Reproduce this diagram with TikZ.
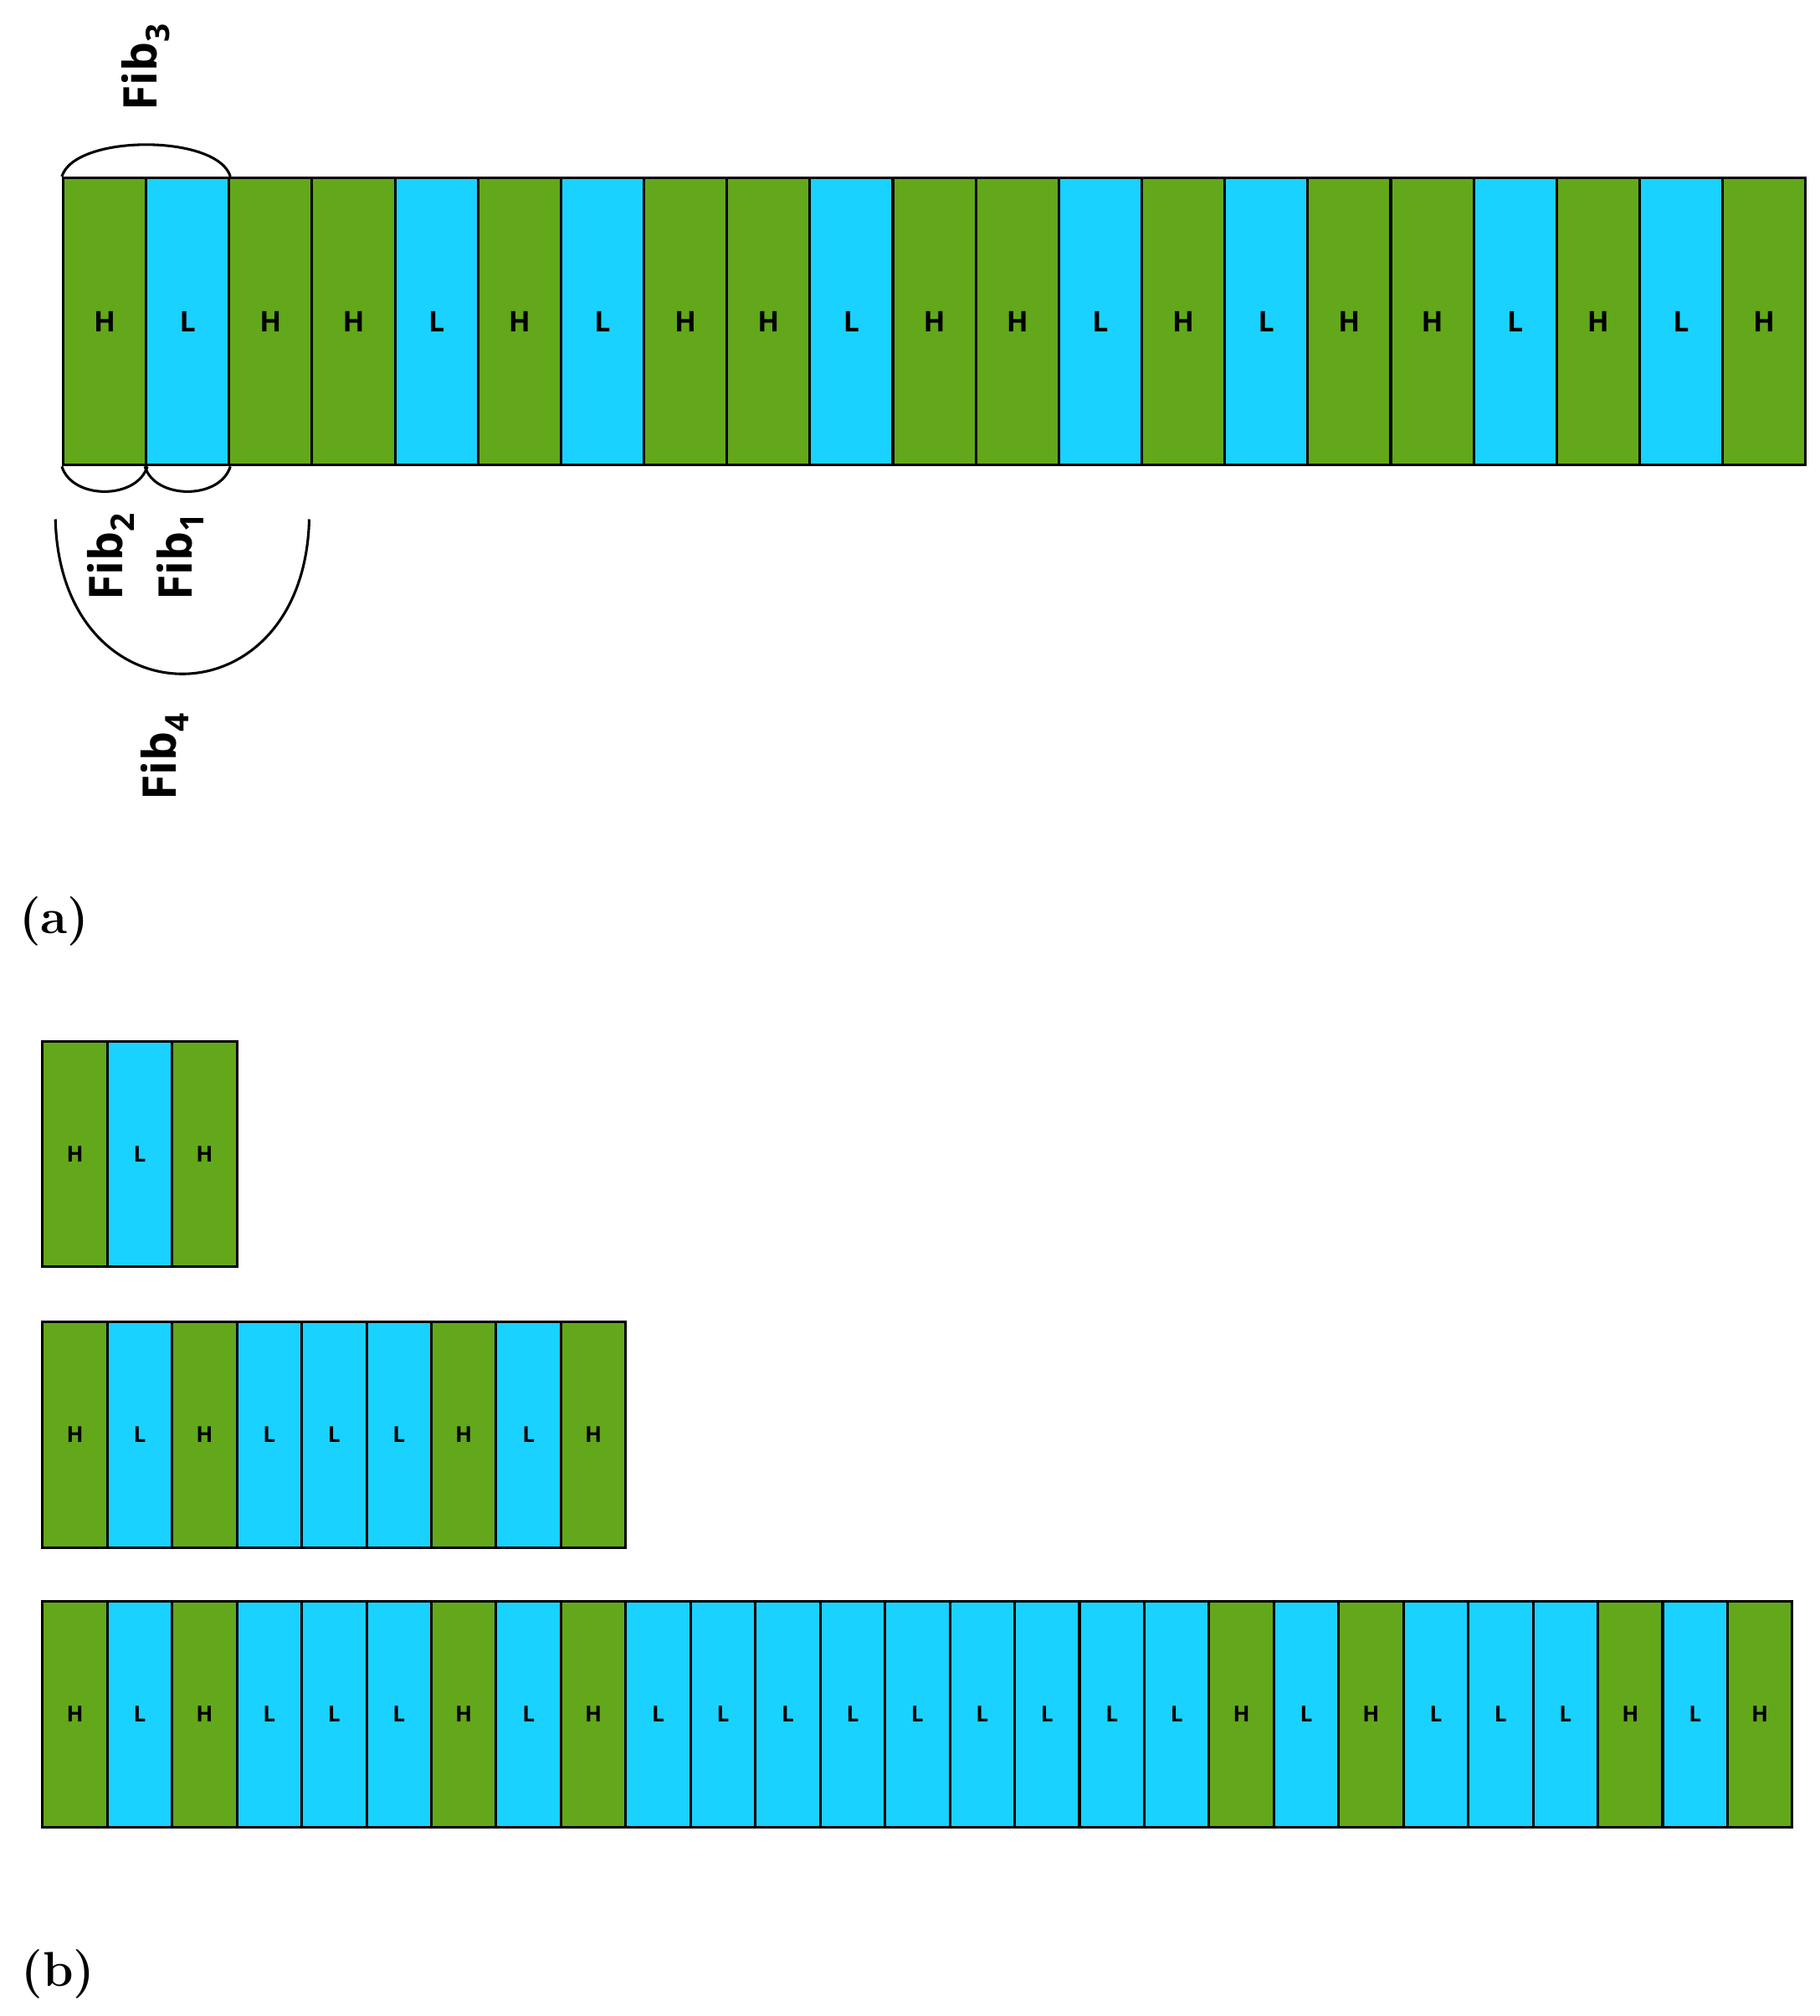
\documentclass[tikz,border=0pt]{standalone}
\usepackage{fontspec}
\setmainfont{Latin Modern Roman}
\setsansfont{Open Sans}
\definecolor{hgreen}{HTML}{62A81A}
\definecolor{lblue}{HTML}{19D2FF}
\begin{document}
\begin{tikzpicture}[x=1pt, y=-1pt,
    cell/.style={draw=black, line width=2pt, inner sep=0pt, anchor=north west, font=\sffamily\bfseries},
    big/.style={cell, minimum width=64.4pt, minimum height=223pt, font=\sffamily\bfseries\fontsize{22}{24}\selectfont},
    small/.style={cell, minimum width=50.3pt, minimum height=175pt, font=\sffamily\bfseries\fontsize{17}{19}\selectfont},
    H/.style={fill=hgreen},
    L/.style={fill=lblue},
    fib/.style={rotate=90, font=\sffamily\bfseries\fontsize{36}{38}\selectfont},
    brace/.style={line width=2pt},
    panel/.style={font=\bfseries\fontsize{38}{40}\selectfont}]
    % Frame
    \useasboundingbox (0,0) rectangle (1412,1564.6);

    % (a) strip
    \foreach \c [count=\i] in {H,L,H,H,L,H,L,H,H,L,H,H,L,H,L,H,H,L,H,L,H}
        \node[big, \c] (t\i) at ({48+(\i-1)*64.4}, 137) {\c};

    % Braces
    \draw[brace] (t1.north west) .. controls +(10,-33) and +(-10,-33) .. (t2.north east);
    \draw[brace] (t1.south west) .. controls +(8,26) and +(-8,26) .. (t1.south east);
    \draw[brace] (t2.south west) .. controls +(8,26) and +(-8,26) .. (t2.south east);
    \coordinate (arcL) at (43,403);
    \coordinate (arcR) at (240,403);
    \draw[brace] (arcL) .. controls +(4,160) and +(-4,160) .. (arcR);

    % Fib labels
    \node[fib] (fib3) at (113,52) {Fib\textsubscript{3}};
    \node[fib] (fib2) at (86,432) {Fib\textsubscript{2}};
    \node[fib] (fib1) at (140,432) {Fib\textsubscript{1}};
    \node[fib] (fib4) at (128,587) {Fib\textsubscript{4}};

    \node[panel] (pa) at (42,715) {(a)};

    % (b) strips
    \foreach \c [count=\i] in {H,L,H}
        \node[small, \c] (p\i) at ({32+(\i-1)*50.3}, 807) {\c};
    \foreach \c [count=\i] in {H,L,H,L,L,L,H,L,H}
        \node[small, \c] (q\i) at ({32+(\i-1)*50.3}, 1025) {\c};
    \foreach \c [count=\i] in {H,L,H,L,L,L,H,L,H,L,L,L,L,L,L,L,L,L,H,L,H,L,L,L,H,L,H}
        \node[small, \c] (r\i) at ({32+(\i-1)*50.3}, 1242) {\c};

    \node[panel] (pb) at (45,1532) {(b)};
\end{tikzpicture}
\end{document}
